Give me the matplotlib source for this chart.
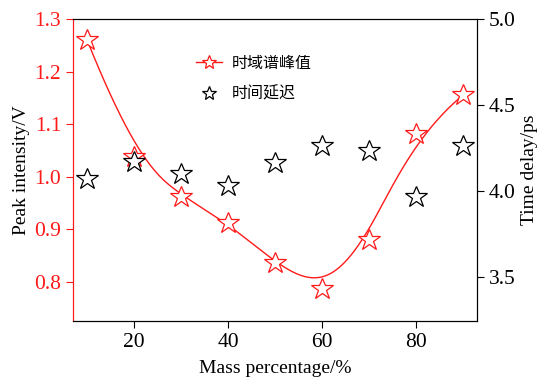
import numpy as np
import matplotlib
matplotlib.use("Agg")
import matplotlib.pyplot as plt
from matplotlib.lines import Line2D

mass = [10, 20, 30, 40, 50, 60, 70, 80, 90]
peak = [1.26, 1.037, 0.962, 0.912, 0.835, 0.785, 0.879, 1.081, 1.155]
delay = [4.068, 4.167, 4.099, 4.031, 4.165, 4.262, 4.234, 3.967, 4.262]
labels = ["时域谱峰值", "时间延迟"]


def bspline(px, py, n=400):
    # clamped cubic B-spline using data points as control points
    P = np.column_stack([px, py]).astype(float)
    k = 3
    m = len(P)
    inner = np.linspace(0, 1, m - k + 1)
    knots = np.concatenate([[0] * k, inner, [1] * k])
    ts = np.linspace(0, 1, n)
    out = []
    for t in ts:
        N = np.zeros(len(knots) - 1)
        for i in range(len(knots) - 1):
            if knots[i] <= t < knots[i + 1] or (t == 1 and knots[i] < t <= knots[i + 1]):
                N[i] = 1.0
        for d in range(1, k + 1):
            Nn = np.zeros(len(knots) - 1 - d)
            for i in range(len(Nn)):
                a = 0.0
                if knots[i + d] != knots[i]:
                    a = (t - knots[i]) / (knots[i + d] - knots[i]) * N[i]
                b = 0.0
                if knots[i + d + 1] != knots[i + 1]:
                    b = (knots[i + d + 1] - t) / (knots[i + d + 1] - knots[i + 1]) * N[i + 1]
                Nn[i] = a + b
            N = Nn
        out.append(N[:m] @ P)
    out = np.array(out)
    return out[:, 0], out[:, 1]


plt.rcParams['font.family'] = ['Liberation Serif', 'Noto Sans CJK SC']
fig = plt.figure(figsize=(5.4, 3.77), dpi=100)
ax = fig.add_axes([73 / 540, 1 - 321 / 377, (477 - 73) / 540, (321 - 19) / 377])
ax2 = ax.twinx()

red = '#ff1a1a'
cx, cy = bspline(mass, peak)
ax.plot(cx, cy, color=red, lw=1.0, zorder=2)
ax.plot(mass, peak, linestyle='none', marker='*', ms=16.5, mfc='white', mec=red, mew=0.9, zorder=3)
ax2.plot(mass, delay, linestyle='none', marker='*', ms=16.5, mfc='white', mec='black', mew=0.9)

ax.set_xlim(7, 93)
ax.set_ylim(0.725, 1.3)
ax2.set_ylim(3.246, 5.0)
ax.set_xticks([20, 40, 60, 80])
ax.set_yticks([0.8, 0.9, 1.0, 1.1, 1.2, 1.3])
ax2.set_yticks([3.5, 4.0, 4.5, 5.0])
ax.yaxis.set_major_formatter(matplotlib.ticker.FormatStrFormatter('%.1f'))
ax2.yaxis.set_major_formatter(matplotlib.ticker.FormatStrFormatter('%.1f'))

ax.tick_params(axis='both', direction='out', labelsize=15.5, length=5)
ax.tick_params(axis='y', colors=red)
ax2.tick_params(axis='y', direction='out', labelsize=15.5, length=5)
ax2.spines['left'].set_color(red)
ax.spines['left'].set_color(red)

ax.set_xlabel('Mass percentage/%', fontsize=14, labelpad=6)
ax.set_ylabel('Peak intensity/V', fontsize=14, labelpad=3)
ax2.set_ylabel('Time delay/ps', fontsize=14, labelpad=4)

h = [Line2D([], [], color=red, lw=1.0, marker='*', ms=10, mfc='white', mec=red, mew=0.9),
     Line2D([], [], linestyle='none', marker='*', ms=10, mfc='white', mec='black', mew=0.9)]
ax2.legend(h, labels, loc='upper left', bbox_to_anchor=(0.27, 0.93), frameon=False,
           prop={'family': ['Noto Sans CJK SC'], 'size': 11.5}, handlelength=1.6,
           labelspacing=0.9, handletextpad=0.6)

fig.savefig('out.png', dpi=100)
